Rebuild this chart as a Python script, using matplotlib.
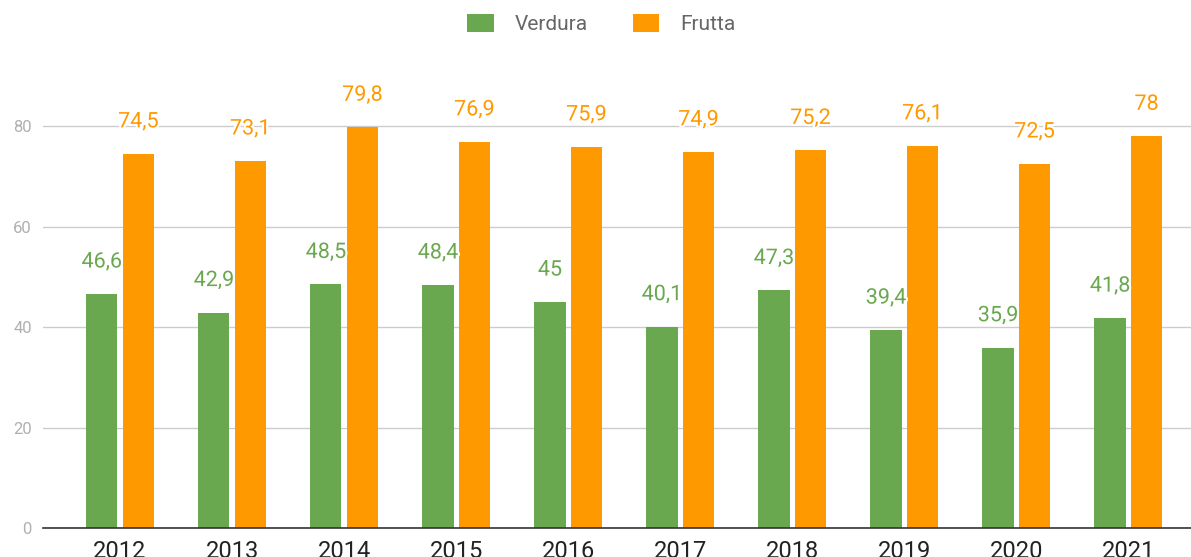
import matplotlib
matplotlib.use("Agg")
import matplotlib.pyplot as plt
import matplotlib.patheffects as pe
import numpy as np

plt.rcParams['font.family'] = ['Roboto', 'DejaVu Sans']

years = ["2012", "2013", "2014", "2015", "2016", "2017", "2018", "2019", "2020", "2021"]
verdura = [46.6, 42.9, 48.5, 48.4, 45.0, 40.1, 47.3, 39.4, 35.9, 41.8]
frutta = [74.5, 73.1, 79.8, 76.9, 75.9, 74.9, 75.2, 76.1, 72.5, 78.0]
series_names = ["Verdura", "Frutta"]
colors = ["#6aa84f", "#ff9900"]

def fmt(v):
    s = ("%.1f" % v).rstrip("0").rstrip(".")
    return s.replace(".", ",")

fig = plt.figure(figsize=(11.91, 5.57), dpi=100)
ax = fig.add_axes([43/1191, 29/557, 1 - 43/1191, 452/557])

x = np.arange(len(years))
w = 0.28
off = 0.163
b1 = ax.bar(x - off, verdura, w, color=colors[0], label=series_names[0], zorder=3)
b2 = ax.bar(x + off, frutta, w, color=colors[1], label=series_names[1], zorder=3)

for bars, vals, c in ((b1, verdura, colors[0]), (b2, frutta, colors[1])):
    for r, v in zip(bars, vals):
        t = ax.annotate(fmt(v), (r.get_x() + r.get_width()/2, v), xytext=(0, 23),
                        textcoords="offset points", ha="center", va="center",
                        fontsize=15.5, color=c, zorder=5)
        t.set_path_effects([pe.withStroke(linewidth=3, foreground="white")])

ax.set_xlim(-0.6875, 9.56)
ax.set_ylim(0, 90)
ax.set_yticks([0, 20, 40, 60, 80])
ax.yaxis.grid(True, color="#cccccc", linewidth=1, zorder=0)
ax.set_axisbelow(True)
for s in ["top", "right", "left"]:
    ax.spines[s].set_visible(False)
ax.spines["bottom"].set_color("#333333")
ax.spines["bottom"].set_linewidth(1.2)
ax.spines["bottom"].set_zorder(4)
ax.set_xticks(x)
ax.set_xticklabels(years)
ax.tick_params(axis="x", length=0, pad=9, labelsize=17, labelcolor="#222222")
ax.tick_params(axis="y", length=0, pad=8, labelsize=12, labelcolor="#b0b0b0")

fig.legend(handles=[b1, b2], labels=series_names, loc="center", bbox_to_anchor=(0.505, 0.957),
           ncol=2, frameon=False, fontsize=15, handlelength=1.25, handleheight=0.95,
           columnspacing=2.2, handletextpad=1.0, labelcolor="#666666")

fig.savefig("out.png", dpi=100)
